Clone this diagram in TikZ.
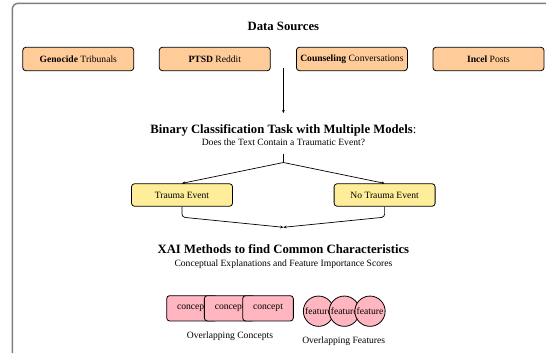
\documentclass[tikz,border=0pt]{standalone}
\usepackage{fontspec}
\setmainfont{Liberation Serif}
\usetikzlibrary{arrows.meta}
\definecolor{srcfill}{HTML}{FFCC99}
\definecolor{clsfill}{HTML}{FFEE99}
\definecolor{xaifill}{HTML}{FFB6C1}
\definecolor{framegray}{HTML}{7F7F7F}

\begin{document}
\begin{tikzpicture}[x=1pt,y=-1pt,
  body/.style={font=\fontsize{9.6}{11.5}\selectfont},
  head/.style={font=\fontsize{12.7}{15}\selectfont, anchor=base, inner sep=2pt,
    text height=9pt, text depth=3pt},
  subhead/.style={body, anchor=base, inner sep=2pt, text height=7pt, text depth=2.5pt},
  srcbox/.style={body, draw=black, line width=0.8pt, fill=srcfill, rounded corners=3pt,
    minimum width=111pt, minimum height=23.4pt, inner sep=2pt},
  clsbox/.style={body, draw=black, line width=0.8pt, fill=clsfill, rounded corners=3pt,
    minimum width=101pt, minimum height=22.5pt, inner sep=2pt},
  conceptbox/.style={body, draw=black, line width=0.8pt, fill=xaifill, rounded corners=3pt,
    minimum width=50.7pt, minimum height=25.3pt, inner sep=2pt},
  featcirc/.style={body, circle, draw=black, line width=0.8pt, fill=xaifill,
    minimum size=30.3pt, inner sep=0pt},
  link/.style={draw=black, line width=0.7pt},
  tip/.style={-{Stealth[length=3.2pt,width=2.8pt]}}
]
\useasboundingbox (0,0) rectangle (546,353);
\clip (0,0) rectangle (546,353);
\fill[white] (0,0) rectangle (546,353);

% outer frame
\draw[framegray, line width=1.5pt, rounded corners=6pt] (12.3,3.3) rectangle (554.5,372);

% data sources
\node[head] (srctitle) at (283.4,30.3) {\bfseries Data Sources};
\node[srcbox] (src1) at (78.3,59) {\textbf{Genocide} Tribunals};
\node[srcbox] (src2) at (214.8,59) {\textbf{PTSD} Reddit};
\node[srcbox] (src3) at (351.9,59) {\textbf{Counseling} Conversations};
\node[srcbox] (src4) at (488.5,59) {\textbf{Incel} Posts};
\coordinate (srcjoin) at (283.4,68.3);

% classification task
\node[head] (clstitle) at (283.4,133.8) {{\bfseries Binary Classification Task with Multiple Models}:};
\node[subhead] (clssub) at (283.4,145.3) {Does the Text Contain a Traumatic Event?};
\draw[link, tip, shorten >=9.5pt] (srcjoin) -- (clstitle.north);

\coordinate (split) at (283.4,162.5);
\node[clsbox] (trauma) at (182,195) {Trauma Event};
\node[clsbox] (notrauma) at (384.6,195) {No Trauma Event};
\draw[link, shorten <=3.5pt] (clssub.south) -- (split);
\draw[link, tip] (split) -- (trauma.north);
\draw[link, tip] (split) -- (notrauma.north);

\coordinate (merge) at (283.4,227.3);
\draw[link, tip, rounded corners=3pt] (trauma.south) -- ++(0,10.5) -- (merge);
\draw[link, tip, rounded corners=3pt] (notrauma.south) -- ++(0,10.5) -- (merge);

% explanation methods
\node[head] (xaititle) at (283.4,253.6) {\bfseries XAI Methods to find Common Characteristics};
\node[subhead] (xaisub) at (283.4,266.6) {Conceptual Explanations and Feature Importance Scores};

\node[conceptbox] (c1) at (192,308.3) {concept};
\node[conceptbox] (c2) at (229.7,308.3) {concept};
\node[conceptbox] (c3) at (268,308.3) {concept};
\node[body, anchor=base] (clabel) at (230,338) {Overlapping Concepts};

\node[featcirc] (f1) at (318.5,311.2) {feature};
\node[featcirc] (f2) at (344.3,311.2) {feature};
\node[featcirc] (f3) at (370,311.2) {feature};
\node[body, anchor=base] (flabel) at (343.7,343) {Overlapping Features};
\end{tikzpicture}
\end{document}
